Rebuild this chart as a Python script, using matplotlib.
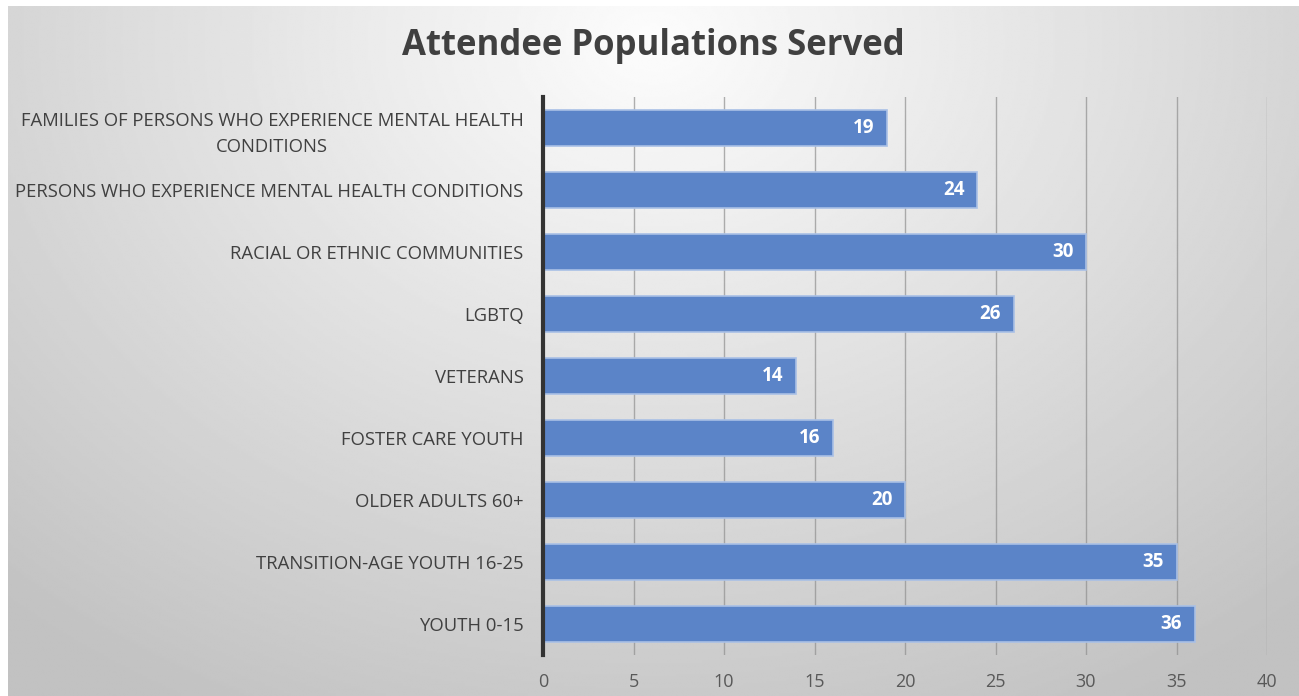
import matplotlib.pyplot as plt
import numpy as np

categories = [
    "FAMILIES OF PERSONS WHO EXPERIENCE MENTAL HEALTH\nCONDITIONS",
    "PERSONS WHO EXPERIENCE MENTAL HEALTH CONDITIONS",
    "RACIAL OR ETHNIC COMMUNITIES",
    "LGBTQ",
    "VETERANS",
    "FOSTER CARE YOUTH",
    "OLDER ADULTS 60+",
    "TRANSITION-AGE YOUTH 16-25",
    "YOUTH 0-15",
]
values = [19, 24, 30, 26, 14, 16, 20, 35, 36]
xticks = [0, 5, 10, 15, 20, 25, 30, 35, 40]

plt.rcParams['font.family'] = ['Open Sans', 'DejaVu Sans']

W, H = 1299, 696
fig = plt.figure(figsize=(W / 100, H / 100), dpi=100)

# radial grey background, brightest near the title
bg = fig.add_axes([8 / W, 0, 1 - 8 / W, 1 - 6 / H])
yy, xx = np.mgrid[0:1:300j, 0:1:600j]
r = np.sqrt(((xx - 0.5) / 0.75) ** 2 + ((yy - 0.05) / 1.1) ** 2)
shade = np.clip(0.99 - 0.23 * r, 0.76, 0.99)
bg.imshow(shade, cmap="gray", vmin=0, vmax=1, aspect="auto",
          extent=[0, 1, 1, 0], interpolation="bilinear")
bg.axis("off")

ax = fig.add_axes([543 / W, 1 - 655 / H, (1267 - 543) / W, (655 - 97) / H])
ax.patch.set_alpha(0)

ypos = np.arange(len(categories))
ax.barh(ypos, values, height=0.58, color="#5b84c8",
        edgecolor="#a9c0e6", linewidth=1.2, zorder=3)
for y, v in zip(ypos, values):
    ax.text(v - 0.7, y, str(v), ha="right", va="center", color="white",
            fontweight="bold", fontsize=13.5, zorder=4)

ax.set_ylim(len(categories) - 0.5, -0.5)
ax.set_xlim(0, 40)
ax.set_xticks(xticks)
ax.set_yticks(ypos)
ax.set_yticklabels(categories, fontsize=13.3, color="#404040",
                   multialignment="center", linespacing=1.6)
ax.tick_params(axis="both", length=0)
ax.tick_params(axis="y", pad=14)
ax.tick_params(axis="x", labelsize=13, labelcolor="#595959", pad=13)
ax.grid(axis="x", color="#8f8f8f", linewidth=1.0, alpha=0.7, zorder=0)
for side in ["top", "right", "bottom"]:
    ax.spines[side].set_visible(False)
ax.spines["left"].set_color("#333333")
ax.spines["left"].set_linewidth(3)
ax.spines["left"].set_zorder(5)

fig.text(653 / W, 1 - 46 / H, "Attendee Populations Served", ha="center",
         va="center", fontsize=25, fontweight="bold", color="#404040")

fig.savefig("out.png", dpi=100)
